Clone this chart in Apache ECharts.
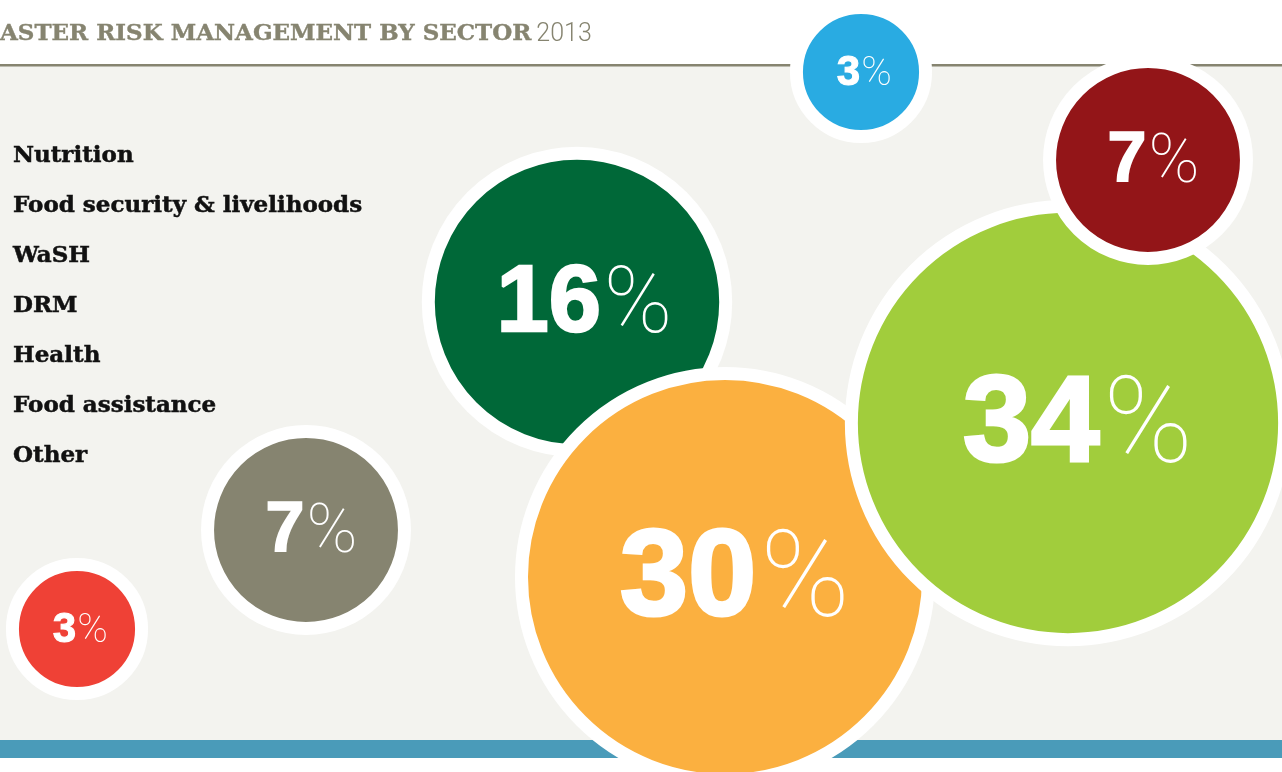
<!DOCTYPE html>
<html lang="en">
<head>
    <meta charset="utf-8" />
    <title>Disaster risk management by sector</title>
    <script src="https://cdn.jsdelivr.net/npm/echarts@6/dist/echarts.min.js"></script>
    <style>
        body { margin: 0; background: #ffffff; }
    </style>
</head>
<body>
<div id="main" style="width: 1282px;height:772px;"></div>
<script type="text/javascript">
    // sectors, in legend order
    var categories = ['Nutrition', 'Food security & livelihoods', 'WaSH', 'DRM', 'Health', 'Food assistance', 'Other'];
    // share of funding, %
    var shares = [34, 30, 3, 16, 3, 7, 7];

    // layout of the bubbles (centre on a 1282x772 canvas), kept apart from the data
    var posX = [1068, 725, 861, 577, 77, 1148, 306];
    var posY = [423, 577, 72, 302, 629, 160, 530];
    var drawOrder = [5, 4, 0, 3, 1, 6, 2];
    var colors = ['#a1cd3c', '#fbb040', '#29abe2', '#006838', '#ef4136', '#931518', '#868470'];
    var labelSize = [123, 123, 42, 94, 42, 70, 70];

    var border = 13;
    function radius(v) {
        return 37.1 * Math.sqrt(v) - 6.2;
    }

    var myChart = echarts.init(document.getElementById('main'), null, {renderer: 'canvas'});

    var series = categories.map(function (name, i) {
        var fs = labelSize[i];
        return {
            name: name,
            type: 'scatter',
            z: 10 + drawOrder[i],
            data: [[posX[i], posY[i], shares[i]]],
            symbol: 'circle',
            symbolSize: function (val) {
                return 2 * radius(val[2]) + border;
            },
            itemStyle: {
                color: colors[i],
                opacity: 1,
                borderColor: '#ffffff',
                borderWidth: border
            },
            label: {
                show: true,
                position: 'inside',
                offset: [fs * 0.08, fs * 0.03],
                formatter: function (p) {
                    return '{n|' + p.value[2] + '}{p|%}';
                },
                rich: {
                    n: {
                        fontFamily: 'Liberation Sans',
                        fontWeight: 'bold',
                        fontSize: fs,
                        color: '#ffffff',
                        textBorderColor: '#ffffff',
                        textBorderWidth: fs * 0.025
                    },
                    p: {
                        fontFamily: 'Roboto',
                        fontWeight: 100,
                        fontSize: fs * 0.98,
                        color: '#ffffff',
                        padding: [fs * 0.08, 0, 0, fs * 0.03]
                    }
                }
            },
            emphasis: { disabled: true },
            silent: true,
            clip: false
        };
    });

    var option = {
        backgroundColor: '#ffffff',
        animation: false,
        title: {
            left: -5,
            top: 17,
            text: '{b|ASTER RISK MANAGEMENT BY SECTOR} {l|2013}',
            textStyle: {
                rich: {
                    b: {
                        fontFamily: 'DejaVu Serif',
                        fontWeight: 'bold',
                        fontSize: 23,
                        color: '#868470',
                        textBorderColor: '#868470',
                        textBorderWidth: 0.4
                    },
                    l: {
                        fontFamily: 'Roboto',
                        fontWeight: 300,
                        fontSize: 25,
                        color: '#868470'
                    }
                }
            }
        },
        graphic: [
            { type: 'rect', z: -10, shape: {x: 0, y: 66, width: 1282, height: 674}, style: {fill: '#f3f3ef'} },
            { type: 'rect', z: -9, shape: {x: 0, y: 64, width: 1282, height: 2.5}, style: {fill: '#868470'} },
            { type: 'rect', z: -9, shape: {x: 0, y: 740, width: 1282, height: 18}, style: {fill: '#4a9bb9'} }
        ],
        legend: {
            data: categories,
            orient: 'vertical',
            left: 7,
            top: 141,
            padding: 0,
            icon: 'rect',
            itemWidth: 0,
            itemHeight: 0,
            itemGap: 20,
            selectedMode: false,
            textStyle: {
                fontFamily: 'DejaVu Serif',
                fontWeight: 'bold',
                fontSize: 23,
                lineHeight: 30,
                color: '#111111',
                textBorderColor: '#111111',
                textBorderWidth: 0.5
            }
        },
        grid: { left: 0, right: 0, top: 0, bottom: 0 },
        xAxis: { type: 'value', min: 0, max: 1282, show: false },
        yAxis: { type: 'value', min: 0, max: 772, inverse: true, show: false },
        series: series
    };
    myChart.setOption(option);
</script>
</body>
</html>
